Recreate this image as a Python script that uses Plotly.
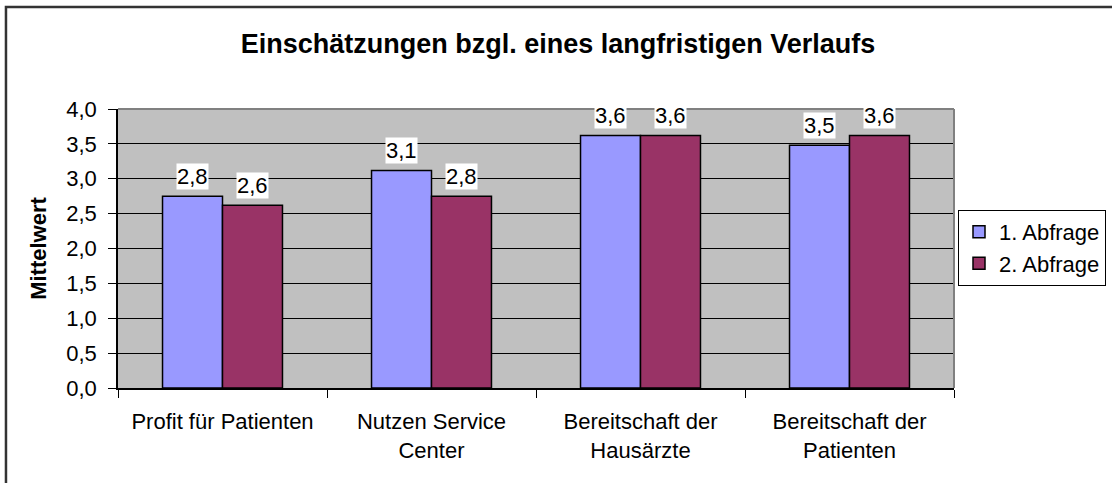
import plotly.graph_objects as go

# Mean ratings per aspect, two survey rounds
categories = [
    "Profit für Patienten",
    "Nutzen Service Center",
    "Bereitschaft der Hausärzte",
    "Bereitschaft der Patienten",
]
category_labels = [
    "Profit für Patienten",
    "Nutzen Service<br>Center",
    "Bereitschaft der<br>Hausärzte",
    "Bereitschaft der<br>Patienten",
]
series_names = ["1. Abfrage", "2. Abfrage"]
abfrage_1 = [2.75, 3.12, 3.62, 3.48]
abfrage_2 = [2.62, 2.75, 3.62, 3.62]
y_ticks = [0, 0.5, 1.0, 1.5, 2.0, 2.5, 3.0, 3.5, 4.0]

colors = ["#9999FF", "#993366"]
FONT = "Liberation Sans, Arial, sans-serif"
FS = 22
BARGAP = 0.426

fig = go.Figure()
for name, vals, col in zip(series_names, [abfrage_1, abfrage_2], colors):
    fig.add_trace(go.Bar(
        x=categories, y=vals, name=name,
        marker=dict(color=col, line=dict(color="black", width=1.5)),
    ))

# Value labels with white boxes above each bar
bar_w = (1 - BARGAP) / 2
annotations = []
for s, vals in enumerate([abfrage_1, abfrage_2]):
    offset = (s - 0.5) * bar_w
    for i, v in enumerate(vals):
        annotations.append(dict(
            x=i + offset, y=v, xref="x", yref="y",
            text=f"{v:.1f}".replace(".", ","),
            showarrow=False, yanchor="middle", yshift=20,
            bgcolor="white", borderpad=0,
            font=dict(family=FONT, size=FS, color="black"),
        ))

shapes = [
    # outer chart frame (right and bottom edges fall outside the page)
    dict(type="rect", xref="paper", yref="paper",
         x0=-0.134, x1=2.0, y0=-1.0, y1=1.3656,
         line=dict(color="#333333", width=2.5)),
    # top and right edges of the plot area
    dict(type="line", xref="paper", yref="paper", x0=0, x1=1, y0=1, y1=1,
         line=dict(color="#808080", width=2)),
    dict(type="line", xref="paper", yref="paper", x0=1, x1=1, y0=0, y1=1,
         line=dict(color="#808080", width=2)),
]

fig.update_layout(
    width=1112, height=483,
    margin=dict(l=118, r=158, t=109, b=95, autoexpand=False),
    paper_bgcolor="white", plot_bgcolor="#C0C0C0",
    separators=",.",
    barmode="group", bargap=BARGAP, bargroupgap=0,
    font=dict(family=FONT, size=FS, color="black"),
    title=dict(
        text="<b>Einschätzungen bzgl. eines langfristigen Verlaufs</b>",
        x=558 / 1112, xanchor="center", y=1 - 44 / 483, yanchor="middle",
        font=dict(family=FONT, size=27, color="black"),
    ),
    legend=dict(
        x=(958 - 118) / 836, xanchor="left", y=0.502, yanchor="middle",
        bordercolor="black", borderwidth=1, bgcolor="white",
        font=dict(family=FONT, size=FS),
        tracegroupgap=0, itemwidth=30,
    ),
    annotations=annotations,
    shapes=shapes,
    showlegend=True,
)

fig.update_xaxes(
    type="category", tickvals=categories, ticktext=category_labels,
    tickson="boundaries", ticks="outside", ticklen=8, tickcolor="black",
    ticklabelstandoff=13,
    showline=True, linecolor="black", linewidth=1.5,
    showgrid=False, tickfont=dict(family=FONT, size=FS),
)
fig.update_yaxes(
    range=[0, 4], tickvals=y_ticks, tickformat=".1f",
    ticks="outside", ticklen=8, tickcolor="black",
    ticklabelstandoff=7,
    showline=True, linecolor="black", linewidth=1.5,
    showgrid=True, gridcolor="black", gridwidth=1,
    zeroline=False, tickfont=dict(family=FONT, size=FS),
    title=dict(text="<b>Mittelwert</b>", font=dict(family=FONT, size=FS), standoff=14),
)

fig.write_html("out.html")
